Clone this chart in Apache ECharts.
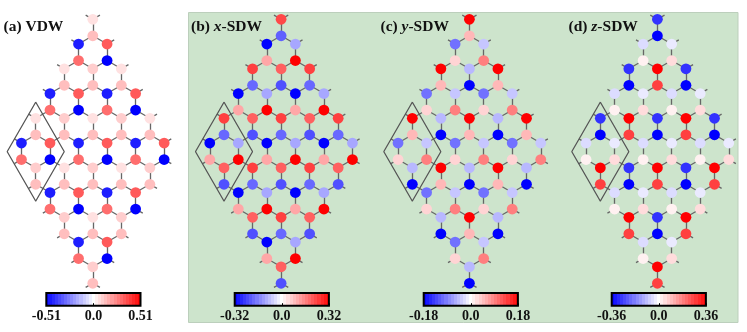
<!DOCTYPE html>
<html>
<head>
<meta charset="utf-8">
<style>html,body{margin:0;padding:0;background:#fff}#c{width:747px;height:332px}</style>
<script src="https://cdn.jsdelivr.net/npm/echarts@6/dist/echarts.min.js"></script>
</head>
<body>
<div id="c"></div>
<script>
// Site values, one inner list per lattice row, top to bottom, left to right.
const vdw = [
  [.06],[.13],
  [-.45,.33],[.29,-.51],
  [.06,.10,.06],[.13,.13,.13],
  [-.45,.33,-.45,.33],[.29,-.51,.29,-.51],
  [.06,.10,.06,.10,.06],[.13,.13,.13,.13,.13],
  [-.45,.33,-.45,.33,-.45,.33],[.29,-.51,.29,-.51,.29,-.51],
  [.10,.06,.10,.06,.10],[.13,.13,.13,.13,.13],
  [-.45,.33,-.45,.33],[.29,-.51,.29,-.51],
  [.10,.06,.10],[.13,.13,.13],
  [-.45,.33],[.29,-.51],
  [.10],[.13]
];
const xSdw = [
  [.23],[-.20],
  [-.32,-.11],[.11,.32],
  [.24,.20,.24],[-.19,-.22,-.19],
  [-.32,-.11,-.32,-.11],[.11,.32,.11,.32],
  [.24,.20,.24,.20,.24],[-.19,-.22,-.19,-.22,-.19],
  [-.32,-.11,-.32,-.11,-.32,-.11],[.11,.32,.11,.32,.11,.32],
  [.20,.24,.20,.24,.20],[-.22,-.19,-.22,-.19,-.22],
  [-.32,-.11,-.32,-.11],[.11,.32,.11,.32],
  [.20,.24,.20],[-.22,-.19,-.22],
  [-.32,-.11],[.11,.32],
  [.20],[-.22]
];
const ySdw = [
  [.18],[.05],
  [-.10,-.04],[.03,.09],
  [.18,-.05,.18],[.05,-.18,.05],
  [-.10,-.04,-.10,-.04],[.03,.09,.03,.09],
  [.18,-.05,.18,-.05,.18],[.05,-.18,.05,-.18,.05],
  [-.10,-.04,-.10,-.04,-.10,-.04],[.03,.09,.03,.09,.03,.09],
  [-.05,.18,-.05,.18,-.05],[-.18,.05,-.18,.05,-.18],
  [-.10,-.04,-.10,-.04],[.03,.09,.03,.09],
  [-.05,.18,-.05],[-.18,.05,-.18],
  [-.10,-.04],[.03,.09],
  [-.05],[-.18]
];
const zSdw = [
  [-.29],[-.36],
  [-.05,-.03],[.02,.05],
  [-.29,.36,-.29],[-.36,.27,-.36],
  [-.05,-.03,-.05,-.03],[.02,.05,.02,.05],
  [-.29,.36,-.29,.36,-.29],[-.36,.27,-.36,.27,-.36],
  [-.05,-.03,-.05,-.03,-.05,-.03],[.02,.05,.02,.05,.02,.05],
  [.36,-.29,.36,-.29,.36],[.27,-.36,.27,-.36,.27],
  [-.05,-.03,-.05,-.03],[.02,.05,.02,.05],
  [.36,-.29,.36],[.27,-.36,.27],
  [-.05,-.03],[.02,.05],
  [.36],[.27]
];
const panelNames = ['VDW', 'x-SDW', 'y-SDW', 'z-SDW'];
const panelValues = [vdw, xSdw, ySdw, zSdw];
const colorLimits = [0.51, 0.32, 0.18, 0.36];
const tickLabels = [
  ['-0.51', '0.0', '0.51'],
  ['-0.32', '0.0', '0.32'],
  ['-0.18', '0.0', '0.18'],
  ['-0.36', '0.0', '0.36']
];
// Unit cell corners in lattice units (column, height)
const cellCol = [-4, -2, -4, -6, -4];
const cellY = [3, 0, -3, 0, 3];

const panelCenters = [92.8, 281.1, 469.4, 657.4];
const colorbarLefts = [46.3, 234.7, 423.7, 611.7];
const titleLefts = [3.5, 191, 380.5, 568.5];
const titleLetters = ['a', 'b', 'c', 'd'];
const COLW = 14.27, ROWH = 16.5, CENTERY = 151.3;

function rowY(r) { const k = Math.floor(r / 2); return 8 - 1.5 * k - (r % 2); }
function rowCols(n) { const a = []; for (let i = 0; i < n; i++) a.push(-(n - 1) + 2 * i); return a; }

function sites(rows) {
  const out = [];
  rows.forEach((vals, r) => {
    const cols = rowCols(vals.length);
    vals.forEach((v, i) => out.push([cols[i], rowY(r), v]));
  });
  return out;
}
function bonds(rows) {
  const out = [];
  rows.forEach((vals, r) => {
    const cols = rowCols(vals.length), y = rowY(r);
    cols.forEach(c => {
      if (r % 2 === 0) {
        out.push({ coords: [[c, y], [c, y - 1]] });
        const up = r > 0 ? rowCols(rows[r - 1].length) : [];
        [-1, 1].forEach(d => {
          if (up.indexOf(c + d) >= 0) out.push({ coords: [[c, y], [c + d, y + 0.5]] });
          else out.push({ coords: [[c, y], [c + d / 2, y + 0.25]] });
        });
      } else {
        const dn = r + 1 < rows.length ? rowCols(rows[r + 1].length) : [];
        [-1, 1].forEach(d => {
          if (dn.indexOf(c + d) < 0) out.push({ coords: [[c, y], [c + d / 2, y - 0.25]] });
        });
      }
    });
  });
  return out;
}

const grids = [], xAxes = [], yAxes = [], series = [], visualMaps = [], titles = [];
const SERIF = '"Liberation Serif","Times New Roman",serif';

panelValues.forEach((rows, p) => {
  grids.push({ left: panelCenters[p] - 6 * COLW, width: 12 * COLW, top: CENTERY - 9 * ROWH, height: 18 * ROWH });
  xAxes.push({ gridIndex: p, type: 'value', min: -6, max: 6, show: false });
  yAxes.push({ gridIndex: p, type: 'value', min: -9, max: 9, show: false });
  series.push({
    type: 'lines', coordinateSystem: 'cartesian2d', xAxisIndex: p, yAxisIndex: p,
    data: bonds(rows), silent: true, z: 2, animation: false,
    lineStyle: { color: '#666', width: 1.3, opacity: 1, curveness: 0 }
  });
  series.push({
    type: 'line', xAxisIndex: p, yAxisIndex: p, showSymbol: false, silent: true, z: 3, animation: false,
    data: cellCol.map((c, i) => [c, cellY[i] - 0.02]),
    lineStyle: { color: '#555', width: 1.1 }
  });
  series.push({
    type: 'scatter', xAxisIndex: p, yAxisIndex: p, data: sites(rows), symbolSize: 10.8, z: 4, animation: false,
    itemStyle: { opacity: 1 }
  });
  visualMaps.push({
    type: 'continuous', show: false, seriesIndex: series.length - 1, dimension: 2,
    min: -colorLimits[p], max: colorLimits[p],
    inRange: { color: ['#0000ff', '#ffffff', '#ff0000'] }
  });
  const name = panelNames[p];
  const dash = name.indexOf('-');
  const text = dash < 0
    ? '{b|(' + titleLetters[p] + ') ' + name + '}'
    : '{b|(' + titleLetters[p] + ') }{i|' + name.slice(0, dash) + '}{b|' + name.slice(dash) + '}';
  const st = { fontFamily: SERIF, fontSize: 15.5, fontWeight: 'bold', color: '#111' };
  titles.push({
    text: text, left: titleLefts[p], top: 19, padding: 0,
    textStyle: { rich: { b: st, i: Object.assign({}, st, { fontStyle: 'italic' }) } }
  });
});

// Colour bars: stepped blue-white-red fill
function barFill() {
  const N = 31, stops = [];
  for (let i = 0; i < N; i++) {
    const t = (i + 0.5) / N * 2 - 1;
    const f = Math.abs(t);
    const w = Math.round(255 * (1 - f));
    const col = t < 0 ? 'rgb(' + w + ',' + w + ',255)' : 'rgb(255,' + w + ',' + w + ')';
    stops.push({ offset: i / N, color: col }, { offset: (i + 1) / N, color: col });
  }
  return { type: 'linear', x: 0, y: 0, x2: 1, y2: 0, colorStops: stops };
}
colorLimits.forEach((lim, p) => {
  const g = 4 + p;
  grids.push({
    show: true, left: colorbarLefts[p], width: 94.2, top: 293, height: 12.7,
    backgroundColor: barFill(), borderColor: '#000', borderWidth: 2
  });
  xAxes.push({
    gridIndex: g, type: 'value', min: -lim, max: lim, interval: lim,
    splitLine: { show: false }, axisLine: { show: false },
    axisTick: { show: true, inside: true, length: 2.5, lineStyle: { color: '#000', width: 1 } },
    axisLabel: {
      margin: 3.5, fontFamily: SERIF, fontSize: 14, fontWeight: 'bold', color: '#111',
      showMinLabel: true, showMaxLabel: true, hideOverlap: false,
      formatter: v => v < 0 ? tickLabels[p][0] : (v > 0 ? tickLabels[p][2] : tickLabels[p][1])
    }
  });
  yAxes.push({ gridIndex: g, type: 'value', min: 0, max: 1, show: false });
});

const chart = echarts.init(document.getElementById('c'), null, { renderer: 'canvas' });
chart.setOption({
  animation: false,
  backgroundColor: '#fff',
  title: titles,
  tooltip: { show: false },
  graphic: [{
    type: 'rect', z: -10, silent: true,
    shape: { x: 188.5, y: 12.5, width: 549.5, height: 310 },
    style: { fill: '#cde4cc', stroke: '#bccfbc', lineWidth: 1 }
  }],
  grid: grids, xAxis: xAxes, yAxis: yAxes, visualMap: visualMaps, series: series
});
</script>
</body>
</html>
